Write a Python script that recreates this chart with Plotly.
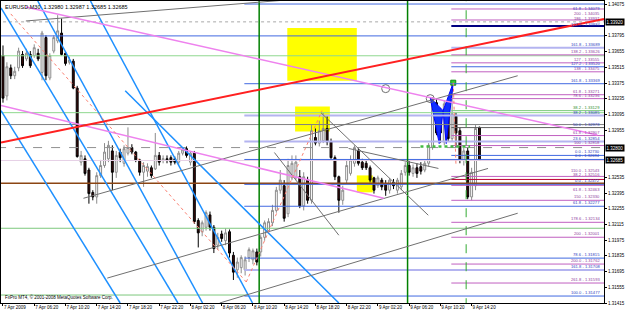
import plotly.graph_objects as go

# ---------------- data ----------------
bar_index = list(range(123))
open_ = [1.3362,1.3326,1.3351,1.3344,1.3351,1.3363,1.3359,1.3363,1.3362,1.3364,
         1.3347,1.3378,1.3342,1.3366,1.3375,1.3382,1.3364,1.3356,1.3357,1.3333,
         1.3267,1.3270,1.3260,1.3240,1.3236,1.3255,1.3264,1.3270,1.3277,1.3258,
         1.3276,1.3266,1.3275,1.3280,1.3276,1.3269,1.3258,1.3259,1.3262,1.3261,
         1.3273,1.3269,1.3270,1.3271,1.3270,1.3267,1.3275,1.3279,1.3267,1.3275,
         1.3215,1.3205,1.3209,1.3220,1.3209,1.3193,1.3203,1.3197,1.3205,1.3184,
         1.3171,1.3173,1.3171,1.3182,1.3180,1.3187,1.3187,1.3200,1.3206,1.3213,
         1.3224,1.3242,1.3246,1.3221,1.3253,1.3253,1.3254,1.3228,1.3251,1.3233,
         1.3289,1.3284,1.3286,1.3297,1.3285,1.3271,1.3254,1.3233,1.3251,1.3257,
         1.3266,1.3277,1.3267,1.3266,1.3262,1.3253,1.3246,1.3251,1.3248,1.3242,
         1.3249,1.3242,1.3245,1.3258,1.3264,1.3257,1.3262,1.3263,1.3260,1.3266,
         1.3280,1.3320,1.3311,1.3285,1.3313,1.3288,1.3308,1.3295,1.3269,1.3277,
         1.3236,1.3246,1.3298]
high_ = [1.3371,1.3356,1.3354,1.3352,1.3369,1.3366,1.3368,1.3366,1.3372,1.3368,
         1.3384,1.3380,1.3364,1.3380,1.3398,1.3395,1.3366,1.3361,1.3359,1.3335,
         1.3277,1.3273,1.3262,1.3242,1.3258,1.3269,1.3284,1.3286,1.3282,1.3277,
         1.3279,1.3282,1.3298,1.3283,1.3277,1.3270,1.3267,1.3266,1.3264,1.3293,
         1.3276,1.3273,1.3273,1.3273,1.3272,1.3277,1.3280,1.3281,1.3277,1.3277,
         1.3217,1.3215,1.3224,1.3223,1.3211,1.3204,1.3206,1.3208,1.3207,1.3187,
         1.3182,1.3184,1.3183,1.3191,1.3190,1.3190,1.3202,1.3215,1.3217,1.3229,
         1.3245,1.3260,1.3251,1.3270,1.3273,1.3273,1.3260,1.3258,1.3254,1.3300,
         1.3297,1.3304,1.3311,1.3308,1.3288,1.3273,1.3255,1.3246,1.3269,1.3273,
         1.3282,1.3280,1.3270,1.3269,1.3264,1.3254,1.3255,1.3253,1.3251,1.3253,
         1.3252,1.3253,1.3260,1.3267,1.3269,1.3265,1.3266,1.3267,1.3269,1.3284,
         1.3325,1.3324,1.3315,1.3322,1.3316,1.3337,1.3311,1.3298,1.3280,1.3280,
         1.3262,1.3300,1.32987]
low_ = [1.3320,1.3322,1.3341,1.3341,1.3348,1.3351,1.3357,1.3351,1.3360,1.3357,
        1.3340,1.3340,1.3340,1.3364,1.3373,1.3362,1.3353,1.3354,1.3332,1.3271,
        1.3264,1.3255,1.3230,1.3233,1.3230,1.3253,1.3262,1.3267,1.3242,1.3253,
        1.3267,1.3263,1.3273,1.3274,1.3267,1.3255,1.3245,1.3254,1.3253,1.3260,
        1.3264,1.3266,1.3266,1.3264,1.3265,1.3264,1.3273,1.3271,1.3264,1.3212,
        1.3191,1.3201,1.3206,1.3206,1.3186,1.3189,1.3196,1.3193,1.3182,1.3162,
        1.3164,1.3168,1.3166,1.3178,1.3176,1.3175,1.3183,1.3197,1.3203,1.3210,
        1.3222,1.3239,1.3214,1.3218,1.3251,1.3251,1.3226,1.3224,1.3230,1.3230,
        1.3282,1.3281,1.3284,1.3282,1.3270,1.3251,1.3222,1.3229,1.3248,1.3255,
        1.3263,1.3264,1.3260,1.3260,1.3249,1.3239,1.3244,1.3242,1.3237,1.3239,
        1.3243,1.3239,1.3242,1.3255,1.3255,1.3254,1.3253,1.3256,1.3258,1.3263,
        1.3278,1.3291,1.3284,1.3282,1.3285,1.3285,1.3280,1.3266,1.3264,1.3234,
        1.3233,1.3242,1.32685]
close_ = [1.3324,1.3352,1.3344,1.3348,1.3366,1.3353,1.3364,1.3353,1.3369,1.3359,
          1.3382,1.3344,1.3362,1.3378,1.3384,1.3363,1.3355,1.3358,1.3333,1.3272,
          1.3273,1.3257,1.3239,1.3236,1.3255,1.3264,1.3276,1.3282,1.3258,1.3273,
          1.3271,1.3279,1.3280,1.3276,1.3269,1.3258,1.3264,1.3263,1.3255,1.3273,
          1.3267,1.3270,1.3269,1.3267,1.3267,1.3275,1.3278,1.3273,1.3275,1.3214,
          1.3204,1.3213,1.3222,1.3209,1.3190,1.3200,1.3199,1.3204,1.3186,1.3169,
          1.3178,1.3182,1.3180,1.3189,1.3188,1.3178,1.3200,1.3213,1.3214,1.3224,
          1.3242,1.3251,1.3217,1.3264,1.3266,1.3267,1.3228,1.3254,1.3233,1.3295,
          1.3284,1.3295,1.3297,1.3285,1.3271,1.3254,1.3233,1.3242,1.3264,1.3269,
          1.3280,1.3266,1.3262,1.3262,1.3251,1.3242,1.3253,1.3245,1.3242,1.3251,
          1.3246,1.3251,1.3257,1.3264,1.3258,1.3262,1.3257,1.3259,1.3266,1.3282,
          1.3322,1.3293,1.3293,1.3319,1.3288,1.3310,1.3293,1.3269,1.3277,1.3236,
          1.3258,1.3297,1.32685]

time_label_bars = [0, 8, 16, 24, 32, 40, 48, 56, 64, 72, 80, 88, 96, 104, 112, 120]
time_labels = ["7 Apr 2009", "7 Apr 06:20", "7 Apr 10:20", "7 Apr 14:20", "7 Apr 18:20",
               "7 Apr 22:20", "8 Apr 02:20", "8 Apr 06:20", "8 Apr 10:20", "8 Apr 14:20",
               "8 Apr 18:20", "8 Apr 22:20", "9 Apr 02:20", "9 Apr 06:20", "9 Apr 10:20",
               "9 Apr 14:20"]

# price scale labels (those hidden under the price boxes are left out)
price_ticks = [1.34075, 1.33795, 1.33655, 1.33515, 1.33375, 1.33235, 1.33095,
               1.32955, 1.32535, 1.32395, 1.32255, 1.32115, 1.31975,
               1.31835, 1.31695, 1.31555, 1.31415]

header_text = "EURUSD,M30  1.32980 1.32987 1.32685 1.32685"
footer_text = "FxPro MT4, © 2001-2008 MetaQuotes Software Corp."

price_boxes = [1.33920, 1.32800, 1.32685]

# full-width horizontal levels
full_levels = [1.33920, 1.33795, 1.33618, 1.33111, 1.33005, 1.32800, 1.32685, 1.32481, 1.32081]
full_styles = [("#A8A8A8", 1, "dot"), ("#4169E1", 1, "solid"), ("#8FD88F", 1, "solid"),
               ("#8FD88F", 1, "solid"), ("#808080", 1, "solid"), ("#909090", 1, "dash"),
               ("#E6D0E6", 1, "solid"), ("#8B4513", 1.5, "solid"), ("#7CC87C", 1, "solid")]
bottom_green = [1.31486]

# levels starting near 8 Apr 00:00
part_start = 61.8
part_levels = [1.34079, 1.33369, 1.33085, 1.32854, 1.32694, 1.32472, 1.32277, 1.31815, 1.31708, 1.31477]
part_pct = ["61.8", "161.8", "38.2", "23.6", "0.0", "0.0", "61.8", "78.6", "161.8", "100.0"]
part_colors = ["#4169E1", "#4169E1", "#B4B4F0", "#B4B4F0", "#4169E1", "#4169E1", "#4169E1",
               "#4169E1", "#B4B4F0", "#4169E1"]

# fibonacci expansions at the right
fib_start = 114.8
fib_levels = [1.34035, 1.33937, 1.33884, 1.33689, 1.33626, 1.33555, 1.33520, 1.33475, 1.33271,
              1.33236, 1.33129, 1.32978, 1.32907, 1.32818, 1.32730, 1.32543, 1.32516, 1.32463,
              1.32330, 1.32134, 1.32001, 1.31762, 1.31593]
fib_pct = ["200", "186", "127.2", "161.8", "138.2", "127", "127.2", "138", "61.8", "78.6", "38.2",
           "50.0", "61.8", "100", "0.0", "110.0", "38.2", "61.8", "150", "178.6", "200", "200.0",
           "261.8"]
fib_colors = ["#C060C0", "#C060C0", "#000080", "#B4B4F0", "#C060C0", "#C060C0", "#4169E1",
              "#C060C0", "#C060C0", "#C060C0", "#7CC87C", "#606060", "#C060C0", "#C060C0",
              "#4169E1", "#C060C0", "#C00030", "#C060C0", "#C060C0", "#C060C0", "#C060C0",
              "#C060C0", "#C060C0"]
# label placement tweaks (text under its line / extra lift in px)
labels_below = [1.34079, 1.34035, 1.32463]
labels_lift = {1.32543: 2, 1.32516: 1, 1.33937: -2, 1.33884: -2}

# trend lines: (bar0, price0, bar1, price1)
red_line = [-0.5, 1.32845, 153.9, 1.33946]
pink_lines = [[5.85, 1.34053, 152.2, 1.32912], [-0.5, 1.33174, 97.5, 1.32348]]
gray_lines = [[5.85, 1.33928, 75.8, 1.34124], [20.6, 1.32348, 131.8, 1.33440],
              [26.7, 1.31637, 124.2, 1.32614], [55.5, 1.31415, 131.8, 1.32215],
              [69.5, 1.32756, 86.0, 1.32019], [81.4, 1.33111, 108.9, 1.32197],
              [88.5, 1.32792, 111.5, 1.32614]]
blue_channel = [[-0.5, 1.34044, 44.8, 1.31415], [-0.5, 1.33129, 30.0, 1.31415],
                [8.9, 1.34106, 51.1, 1.31415], [22.4, 1.34106, 63.9, 1.31415],
                [31.3, 1.33307, 86.0, 1.31415]]
zigzag_bars = [2.0, 62.3, 81.7]
zigzag_prices = [1.33991, 1.31602, 1.33129]
zigzag2_bars = [115.3, 116.0]
zigzag2_prices = [1.33378, 1.32641]

green_vlines = [65.6, 103.6]
green_dash_vline = [118.6]

yellow_boxes = [[72.8, 1.33866, 90.6, 1.33396], [74.8, 1.33165, 83.7, 1.32943],
                [90.6, 1.32552, 94.7, 1.32401]]

pattern_bars = [109.4, 111.7, 112.7, 113.5, 115.3]
pattern_prices = [1.33245, 1.32836, 1.33129, 1.32836, 1.33378]
pattern_base = [106.9, 119.6, 1.32810]
circle_bars = [98.0, 109.4]
circle_prices = [1.33325, 1.33236]

X_MIN, X_MAX = -0.51, 153.9
Y_MIN, Y_MAX = 1.31415, 1.34106
FONT = "Liberation Sans"

fig = go.Figure()

def seg(x0, y0, x1, y1, color, width=1, dash="solid", layer="above"):
    fig.add_shape(type="line", xref="x", yref="y", x0=x0, y0=y0, x1=x1, y1=y1,
                  line=dict(color=color, width=width, dash=dash), layer=layer)

# yellow boxes (background)
for b in yellow_boxes:
    fig.add_shape(type="rect", xref="x", yref="y", x0=b[0], y0=b[1], x1=b[2], y1=b[3],
                  fillcolor="#FFFF00", line=dict(width=0), layer="below")

# full-width levels
for lv, st in zip(full_levels, full_styles):
    seg(X_MIN - 1, lv, X_MAX + 1, lv, st[0], st[1], st[2])
for lv in bottom_green:
    seg(X_MIN - 1, lv, 63, lv, "#7CC87C", 1)

for lv, c in zip(part_levels, part_colors):
    seg(part_start, lv, X_MAX + 1, lv, c, 2 if c == "#B4B4F0" else 1)
for lv, c in zip(fib_levels, fib_colors):
    seg(fib_start, lv, X_MAX + 1, lv, c, 2 if c in ("#000080", "#B4B4F0") else 1)

# vertical lines
for vx in green_vlines:
    seg(vx, Y_MIN - 0.01, vx, Y_MAX + 0.01, "#008000", 1.5)
for vx in green_dash_vline:
    seg(vx, Y_MIN - 0.01, vx, Y_MAX + 0.01, "#33AA33", 1, "dash")

# trend lines
for l in blue_channel:
    seg(*l, "#1E90FF", 1.5)
for l in gray_lines:
    seg(*l, "#707070", 1)
for l in pink_lines:
    seg(*l, "#EE82EE", 1.5)
seg(*red_line, "#FF2020", 2)

for i in range(len(zigzag_bars) - 1):
    seg(zigzag_bars[i], zigzag_prices[i], zigzag_bars[i + 1], zigzag_prices[i + 1], "#FA8072", 1, "dot")
seg(zigzag2_bars[0], zigzag2_prices[0], zigzag2_bars[1], zigzag2_prices[1], "#FA8072", 1, "dot")

# candles
fig.add_trace(go.Candlestick(
    x=bar_index, open=open_, high=high_, low=low_, close=close_,
    increasing=dict(fillcolor="#FFFFFF", line=dict(color="#8C8C8C", width=1)),
    decreasing=dict(fillcolor="#3A0A0A", line=dict(color="#000000", width=1)),
    whiskerwidth=0, showlegend=False, hoverinfo="skip"))

# harmonic pattern triangles
fig.add_trace(go.Scatter(x=pattern_bars[0:3] + [pattern_bars[0]], y=pattern_prices[0:3] + [pattern_prices[0]],
                         fill="toself", fillcolor="#1030FF", mode="lines",
                         line=dict(color="#0000FF", width=1), showlegend=False, hoverinfo="skip"))
fig.add_trace(go.Scatter(x=pattern_bars[2:5] + [pattern_bars[2]], y=pattern_prices[2:5] + [pattern_prices[2]],
                         fill="toself", fillcolor="#1030FF", mode="lines",
                         line=dict(color="#0000FF", width=1), showlegend=False, hoverinfo="skip"))
seg(pattern_base[0], pattern_base[2], pattern_base[1], pattern_base[2], "#44BB44", 2.5, "dot")
fig.add_trace(go.Scatter(x=[pattern_bars[4]], y=[pattern_prices[4]], mode="markers",
                         marker=dict(symbol="square", size=5, color="#33CC33", line=dict(color="#118811", width=1)),
                         showlegend=False, hoverinfo="skip"))
fig.add_trace(go.Scatter(x=circle_bars, y=circle_prices, mode="markers",
                         marker=dict(symbol="circle-open", size=8, color="#707070", line=dict(width=1)),
                         showlegend=False, hoverinfo="skip"))

annotations = []
# fib labels
for lv, pct, c in zip(fib_levels + part_levels, fib_pct + part_pct, fib_colors + part_colors):
    col = "#9040A0" if c in ("#C060C0", "#C00030") else ("#3040C0" if c != "#7CC87C" else "#309030")
    below = lv in labels_below
    annotations.append(dict(x=X_MAX - 0.4, y=lv, xref="x", yref="y", xanchor="right",
                            yanchor="top" if below else "bottom",
                            text=f"{pct} - {lv:.5f}", showarrow=False,
                            font=dict(family=FONT, size=4.1, color=col),
                            yshift=(0 if below else -1) + labels_lift.get(lv, 0)))
# price boxes
for pb in price_boxes:
    annotations.append(dict(x=1, y=pb, xref="paper", yref="y", xanchor="left", yanchor="middle",
                            text=f"{pb:.5f}", showarrow=False, bgcolor="#000000", borderpad=0.5,
                            font=dict(family=FONT, size=4.5, color="#FFFFFF"), xshift=1))
annotations.append(dict(x=0.003, y=1, xref="paper", yref="paper", xanchor="left", yanchor="top",
                        text=header_text, showarrow=False, yshift=-1,
                        font=dict(family=FONT, size=5.5, color="#000000")))
annotations.append(dict(x=0.003, y=0, xref="paper", yref="paper", xanchor="left", yanchor="bottom",
                        text=footer_text, showarrow=False, yshift=1,
                        font=dict(family=FONT, size=4.5, color="#000000")))

fig.update_layout(
    width=625, height=312, autosize=False,
    margin=dict(l=0, r=18, t=0, b=9),
    paper_bgcolor="#FFFFFF", plot_bgcolor="#FFFFFF",
    annotations=annotations,
    xaxis=dict(range=[X_MIN, X_MAX], showgrid=False, zeroline=False, showline=True,
               linecolor="#000000", linewidth=1, mirror=True, ticks="outside", ticklen=2,
               tickcolor="#000000", tickvals=time_label_bars, ticktext=time_labels,
               ticklabelposition="outside right", tickangle=0, rangeslider=dict(visible=False),
               tickfont=dict(family=FONT, size=4.5, color="#000000")),
    yaxis=dict(range=[Y_MIN, Y_MAX], side="right", showgrid=False, zeroline=False, showline=True,
               linecolor="#000000", linewidth=1, mirror=True, ticks="outside", ticklen=2,
               tickcolor="#000000", tickvals=price_ticks, ticktext=[f"{p:.5f}" for p in price_ticks],
               tickfont=dict(family=FONT, size=4.5, color="#000000")),
)

fig.write_html("out.html")
